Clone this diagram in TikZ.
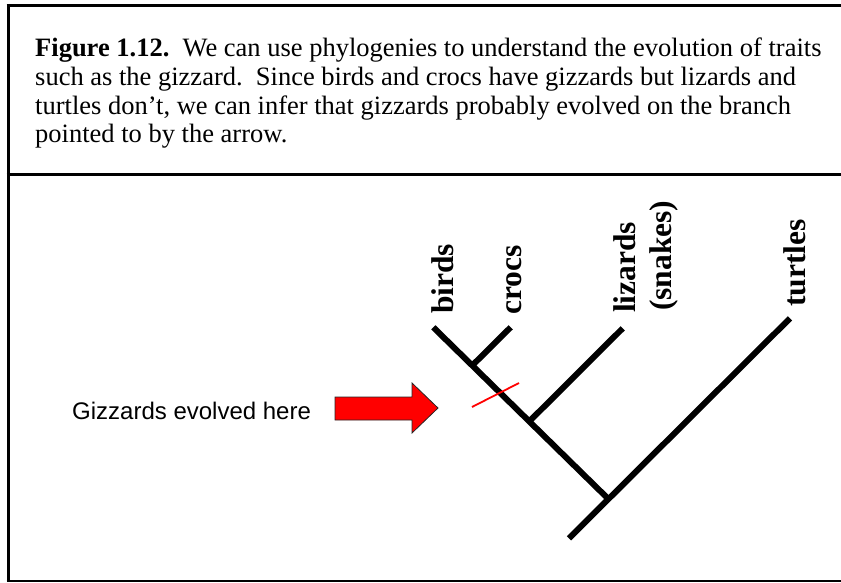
\documentclass[tikz,border=0pt]{standalone}
\usepackage{fontspec}
\setmainfont{Liberation Serif}
\newfontfamily\arialf{Liberation Sans}
\begin{document}
\begin{tikzpicture}[x=1pt,y=-1pt,
  frameline/.style={line width=3pt,black},
  branch/.style={line width=6pt,black},
  captext/.style={anchor=base west,inner sep=0pt,font=\fontsize{26.5}{29}\selectfont},
  taxon/.style={rotate=90,anchor=base west,inner sep=0pt,font=\bfseries\fontsize{31.5}{36}\selectfont},
  sanslabel/.style={anchor=base west,inner sep=0pt,font=\arialf\fontsize{24}{28}\selectfont},
  bigarrow/.style={fill=red,draw=black!85,line width=0.8pt,line join=miter},
  tick/.style={red,line width=1.8pt}
]
\useasboundingbox (0,0) rectangle (841,582);
\frenchspacing
% frame
\draw[frameline] (6.5,5.3) -- (841,5.3);
\draw[frameline] (8,3.8) -- (8,581);
\draw[frameline] (6.5,174.3) -- (841,174.3);
\draw[line width=2pt] (6.5,580.6) -- (841,580.6);
% caption
\node[captext] (c1) at (35,56) {\textbf{Figure 1.12.}\hspace{0.5em}We can use phylogenies to understand the evolution of traits};
\node[captext] (c2) at (35,85) {such as the gizzard.\hspace{0.5em}Since birds and crocs have gizzards but lizards and};
\node[captext] (c3) at (35,114) {turtles don’t, we can infer that gizzards probably evolved on the branch};
\node[captext] (c4) at (35,142.5) {pointed to by the arrow.};
% tree
\coordinate (birdtip) at (433.3,327.3);
\coordinate (croctip) at (510.7,327.3);
\coordinate (lizardtip) at (622.7,328.3);
\coordinate (turtletip) at (790,318.3);
\coordinate (root) at (569,538.3);
\coordinate (jcroc) at (472.7,365);
\coordinate (jlizard) at (530,420.7);
\coordinate (jturtle) at (607.7,498.3);
\draw[branch] (birdtip) -- (jturtle);
\draw[branch] (root) -- (turtletip);
\draw[branch] (jcroc) -- (croctip);
\draw[branch] (jlizard) -- (lizardtip);
% taxon labels
\node[taxon] (birds) at (453,314) {birds};
\node[taxon] (crocs) at (521,315) {crocs};
\node[taxon] (lizards) at (635,313) {lizards};
\node[taxon] (snakes) at (671,311) {(snakes)};
\node[taxon] (turtles) at (805,307) {turtles};
% gizzard mark
\coordinate (tickA) at (472,407);
\coordinate (tickB) at (519,383);
\draw[tick] (tickA) -- (tickB);
% arrow and label
\node[sanslabel] (lbl) at (72,419) {Gizzards evolved here};
\draw[bigarrow] (335,397) -- (412,397) -- (412,383) -- (438,408) -- (412,433) -- (412,420) -- (335,420) -- cycle;
\end{tikzpicture}
\end{document}
